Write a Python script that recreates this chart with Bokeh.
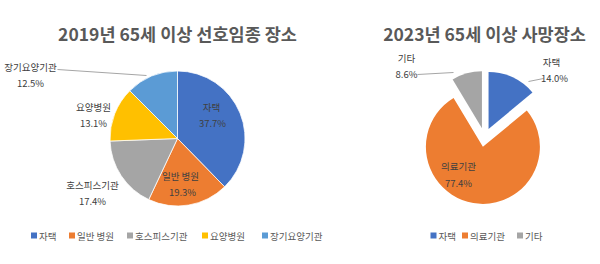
import numpy as np
from bokeh.plotting import figure
from bokeh.models import Range1d
from bokeh.embed import file_html
from bokeh.resources import INLINE
from bokeh.core.properties import value

# ---------------- data ----------------
title_2019 = "2019년 65세 이상 선호임종 장소"
cats_2019 = ["자택", "일반 병원", "호스피스기관", "요양병원", "장기요양기관"]
vals_2019 = [37.7, 19.3, 17.4, 13.1, 12.5]

title_2023 = "2023년 65세 이상 사망장소"
cats_2023 = ["자택", "의료기관", "기타"]
vals_2023 = [14.0, 77.4, 8.6]

# ---------------- styles / layout ----------------
colors_2019 = ["#4472C4", "#ED7D31", "#A5A5A5", "#FFC000", "#5B9BD5"]
colors_2023 = ["#4472C4", "#ED7D31", "#A5A5A5"]
FONT = "Noto Sans CJK KR"
TITLE_COLOR = "#595959"
LABEL_COLOR = "#404040"
LEGEND_COLOR = "#595959"

L_center = (177, 138)
L_radius = 67.5
R_center = (484, 137)
R_radius = 57
R_explode = 9.5

# label anchor positions (name line, percent line) in pixels
L_name_pos = [(211, 106), (180, 175), (92, 184), (93, 106), (30, 66)]
L_pct_pos = [(212, 122), (182, 191), (92, 200), (93, 122), (30, 82)]
R_name_pos = [(551, 61), (458, 165), (406, 57)]
R_pct_pos = [(554, 77), (458, 182), (406, 73)]

L_leaders = [((57, 69), (146, 75))]
R_leaders = [((528, 81), (543, 78)), ((417, 74), (453, 72))]

L_legend_x = [33.5, 71.5, 129.5, 204.5, 264.5]
R_legend_x = [433, 464.5, 519.5]
LEGEND_Y = 235

W, H = 600, 264
p = figure(width=W, height=H, x_range=Range1d(0, W), y_range=Range1d(H, 0),
           output_backend="svg", toolbar_location=None, min_border=0)
p.axis.visible = False
p.grid.visible = False
p.outline_line_color = None
p.background_fill_color = "white"
p.border_fill_color = "white"


def pie(vals, colors, center, radius, explode, line_color):
    fr = np.array(vals, dtype=float) / 100.0
    ends = np.cumsum(fr) * 2 * np.pi
    starts = ends - fr * 2 * np.pi
    mids = (starts + ends) / 2
    xs = center[0] + explode * np.sin(mids)
    ys = center[1] - explode * np.cos(mids)
    p.wedge(x=xs, y=ys, radius=radius,
            start_angle=np.pi / 2 - starts, end_angle=np.pi / 2 - ends,
            direction="clock", fill_color=colors,
            line_color=line_color, line_width=0.75)


pie(vals_2019, colors_2019, L_center, L_radius, 0, "white")
pie(vals_2023, colors_2023, R_center, R_radius, R_explode, None)

# leader lines
for (a, b) in L_leaders + R_leaders:
    p.line([a[0], b[0]], [a[1], b[1]], line_color="#A6A6A6", line_width=1)


def labels(cats, vals, name_pos, pct_pos):
    p.text(x=[q[0] for q in name_pos], y=[q[1] for q in name_pos], text=cats,
           text_font=value(FONT), text_font_size="9.5px", text_color=LABEL_COLOR,
           text_align="center", text_baseline="middle")
    p.text(x=[q[0] for q in pct_pos], y=[q[1] for q in pct_pos],
           text=[f"{v:.1f}%" for v in vals],
           text_font=value(FONT), text_font_size="9.5px", text_color=LABEL_COLOR,
           text_align="center", text_baseline="middle")


labels(cats_2019, vals_2019, L_name_pos, L_pct_pos)
labels(cats_2023, vals_2023, R_name_pos, R_pct_pos)

# titles
p.text(x=[L_center[0], R_center[0]], y=[33, 33], text=[title_2019, title_2023],
       text_font=value(FONT), text_font_size="17.5px", text_font_style="bold",
       text_color=TITLE_COLOR, text_align="center", text_baseline="middle")


def legend(cats, colors, xs):
    p.scatter(x=xs, y=[LEGEND_Y] * len(xs), marker="square", size=6,
              fill_color=colors, line_color=None)
    p.text(x=[x + 5 for x in xs], y=[LEGEND_Y] * len(xs), text=cats,
           text_font=value(FONT), text_font_size="9.5px", text_color=LEGEND_COLOR,
           text_align="left", text_baseline="middle")


legend(cats_2019, colors_2019, L_legend_x)
legend(cats_2023, colors_2023, R_legend_x)

open("out.html", "w").write(file_html(p, INLINE))
